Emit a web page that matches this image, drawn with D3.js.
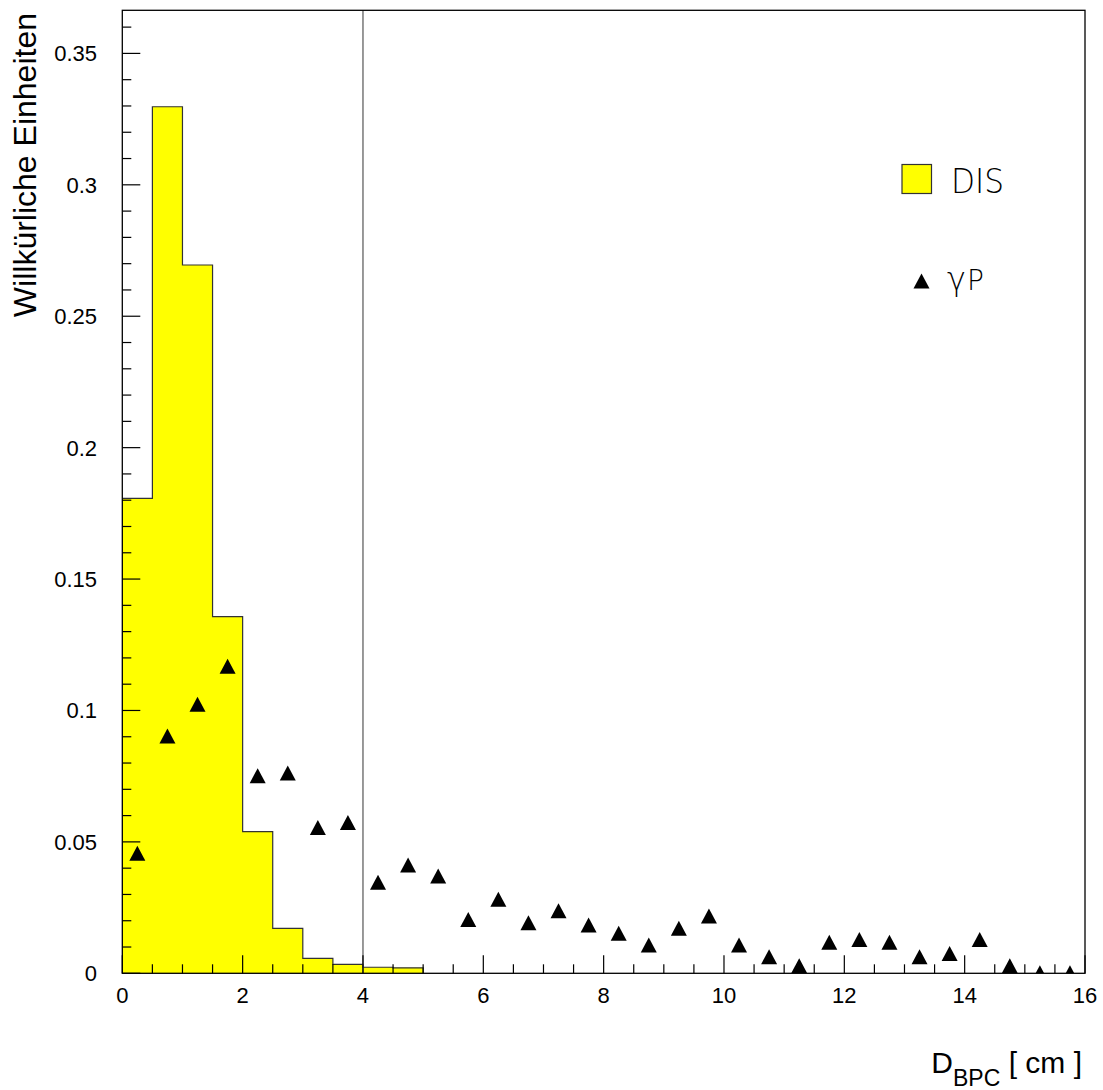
<!DOCTYPE html>
<html>
<head>
<meta charset="utf-8">
<script src="https://cdn.jsdelivr.net/npm/d3@7"></script>
<style>
  html, body { margin: 0; padding: 0; background: #fff; }
  svg { display: block; }
</style>
</head>
<body>
<svg id="chart" width="1103" height="1090"></svg>
<script>
// DIS histogram: bin edges (cm) and normalised contents
const disBinEdges = [0, 0.5, 1, 1.5, 2, 2.5, 3, 3.5, 4, 4.5, 5];
const disValues = [0.1807, 0.3297, 0.2695, 0.1357, 0.0539, 0.0171, 0.0057, 0.0034, 0.0023, 0.0021];

// Photoproduction (γP) points at bin centres
const gpX = [0.25, 0.75, 1.25, 1.75, 2.25, 2.75, 3.25, 3.75, 4.25, 4.75,
             5.25, 5.75, 6.25, 6.75, 7.25, 7.75, 8.25, 8.75, 9.25, 9.75,
             10.25, 10.75, 11.25, 11.75, 12.25, 12.75, 13.25, 13.75, 14.25, 14.75,
             15.25, 15.75];
const gpY = [0.0457, 0.0903, 0.1024, 0.1168, 0.0752, 0.0762, 0.0555, 0.0574, 0.0346, 0.0412,
             0.0370, 0.0205, 0.0282, 0.0192, 0.0238, 0.0184, 0.0152, 0.0108, 0.0171, 0.0218,
             0.0108, 0.0063, 0.0029, 0.0118, 0.0129, 0.0118, 0.0063, 0.0075, 0.0129, 0.0029,
             0.0002, 0.0002];

// Axis ticks
const xMajorTicks = [0, 2, 4, 6, 8, 10, 12, 14, 16];
const xTickLabels = ["0", "2", "4", "6", "8", "10", "12", "14", "16"];
const yMajorTicks = [0, 0.05, 0.1, 0.15, 0.2, 0.25, 0.3, 0.35];
const yTickLabels = ["0", "0.05", "0.1", "0.15", "0.2", "0.25", "0.3", "0.35"];
const cutValue = 4;

const frame = { left: 122.3, right: 1085, top: 10.3, bottom: 973.3 };

const svg = d3.select("#chart");
const x = d3.scaleLinear().domain([0, 16]).range([frame.left, frame.right]);
const y = d3.scaleLinear().domain([0, 0.3664]).range([frame.bottom, frame.top]);

svg.append("defs").append("clipPath").attr("id", "plotClip")
  .append("rect")
  .attr("x", frame.left).attr("y", frame.top)
  .attr("width", frame.right - frame.left)
  .attr("height", frame.bottom - frame.top);

const plot = svg.append("g").attr("clip-path", "url(#plotClip)");

// DIS histogram as a filled step outline
const stepPts = [[disBinEdges[0], 0]];
disValues.forEach((v, i) => {
  stepPts.push([disBinEdges[i], v]);
  stepPts.push([disBinEdges[i + 1], v]);
});
stepPts.push([disBinEdges[disBinEdges.length - 1], 0]);
const stepLine = d3.line().x(d => x(d[0])).y(d => y(d[1]));
plot.append("path")
  .attr("d", stepLine(stepPts) + "Z")
  .attr("fill", "#ffff00")
  .attr("stroke", "none");
plot.append("path")
  .attr("d", stepLine(stepPts))
  .attr("fill", "none")
  .attr("stroke", "#333")
  .attr("stroke-width", 1.2);

// Cut line
svg.append("line")
  .attr("x1", x(cutValue)).attr("x2", x(cutValue))
  .attr("y1", frame.top).attr("y2", frame.bottom)
  .attr("stroke", "#555").attr("stroke-width", 1.2);

// Triangle marker shape
const triW = 16, triH = 15;
const triPath = `M0,${-triH / 2}L${triW / 2},${triH / 2}L${-triW / 2},${triH / 2}Z`;

plot.selectAll("path.gp")
  .data(gpX.map((d, i) => [d, gpY[i]]))
  .enter().append("path")
  .attr("class", "gp")
  .attr("d", triPath)
  .attr("transform", d => `translate(${x(d[0])},${y(d[1])})`)
  .attr("fill", "#000");

// Frame
svg.append("rect")
  .attr("x", frame.left).attr("y", frame.top)
  .attr("width", frame.right - frame.left)
  .attr("height", frame.bottom - frame.top)
  .attr("fill", "none").attr("stroke", "#000").attr("stroke-width", 1.3);

// Ticks drawn inward
const tickG = svg.append("g").attr("stroke", "#000").attr("stroke-width", 1.2);
const xMinor = d3.range(0, 16.01, 0.5);
tickG.selectAll("line.xt").data(xMinor).enter().append("line")
  .attr("x1", d => x(d)).attr("x2", d => x(d))
  .attr("y1", frame.bottom)
  .attr("y2", d => frame.bottom - (xMajorTicks.includes(d) ? 18 : 9));
const yMinor = d3.range(0, 0.3601, 0.01).map(v => +v.toFixed(2));
tickG.selectAll("line.yt").data(yMinor).enter().append("line")
  .attr("y1", d => y(d)).attr("y2", d => y(d))
  .attr("x1", frame.left)
  .attr("x2", d => frame.left + (yMajorTicks.some(t => Math.abs(t - d) < 1e-9) ? 18 : 9));

const tickFont = "'Liberation Sans', Arial, sans-serif";

// Tick labels
svg.selectAll("text.xl").data(xMajorTicks).enter().append("text")
  .attr("x", d => x(d)).attr("y", 1003)
  .attr("text-anchor", "middle")
  .attr("font-family", tickFont).attr("font-size", 22)
  .text((d, i) => xTickLabels[i]);
svg.selectAll("text.yl").data(yMajorTicks).enter().append("text")
  .attr("x", 97).attr("y", d => y(d))
  .attr("dy", "0.36em")
  .attr("text-anchor", "end")
  .attr("font-family", tickFont).attr("font-size", 22)
  .text((d, i) => yTickLabels[i]);

// Axis titles
const xt = svg.append("text")
  .attr("x", 1082).attr("y", 1073)
  .attr("text-anchor", "end")
  .attr("font-family", tickFont).attr("font-size", 30);
xt.append("tspan").text("D");
xt.append("tspan").attr("font-size", 23).attr("dy", 13).text("BPC");
xt.append("tspan").attr("dy", -13).text(" [ cm ]");

svg.append("text")
  .attr("transform", "translate(36,13) rotate(-90)")
  .attr("text-anchor", "end")
  .attr("font-family", tickFont).attr("font-size", 32)
  .text("Willkürliche Einheiten");

// Legend
const legFont = "'DejaVu Sans', sans-serif";
svg.append("rect")
  .attr("x", 902).attr("y", 164.5).attr("width", 29.5).attr("height", 29)
  .attr("fill", "#ffff00").attr("stroke", "#333").attr("stroke-width", 1.2);
svg.append("text")
  .attr("x", 951).attr("y", 193)
  .attr("font-family", legFont).attr("font-weight", 200).attr("font-size", 33)
  .attr("textLength", 53).attr("lengthAdjust", "spacingAndGlyphs")
  .text("DIS");
svg.append("path")
  .attr("d", triPath)
  .attr("transform", "translate(921.5,281)")
  .attr("fill", "#000");
const gt = svg.append("text")
  .attr("x", 947).attr("y", 290)
  .attr("font-family", legFont).attr("font-weight", 200).attr("font-size", 28);
gt.append("tspan").attr("font-size", 32).text("γ");
gt.append("tspan").attr("dx", 1).text("P");
</script>
</body>
</html>
